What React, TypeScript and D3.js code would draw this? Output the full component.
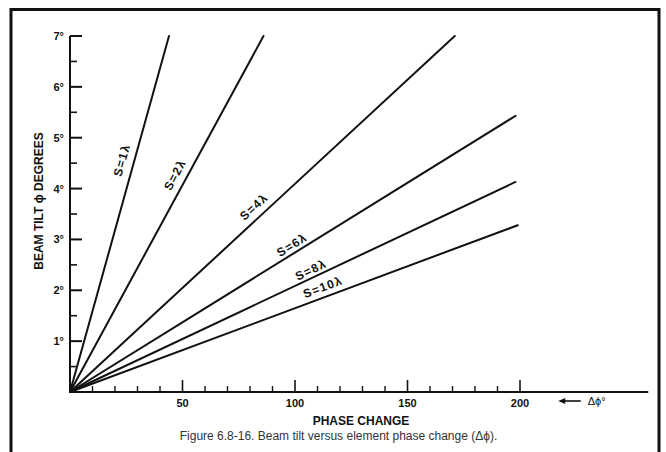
import React from "react";
import * as d3 from "d3";

const seriesNames = ["S=1λ", "S=2λ", "S=4λ", "S=6λ", "S=8λ", "S=10λ"];
const endPhase = [44, 86, 171, 198, 198, 199];
const endTilt = [7, 7, 7, 5.43, 4.13, 3.28];
const labelPhase = [23.1, 46.7, 81.8, 98.7, 107.1, 112.4];
const labelTilt = [4.56, 4.27, 3.64, 2.89, 2.4, 2.06];

const xMajorTicks = [50, 100, 150, 200];
const xMinorTicks = [10, 20, 30, 40, 60, 70, 80, 90, 110, 120, 130, 140, 160, 170, 180, 190];
const yMajorTicks = [1, 2, 3, 4, 5, 6, 7];
const yMinorTicks = [0.5, 1.5, 2.5, 3.5, 4.5, 5.5, 6.5];

const xTitle = "PHASE CHANGE";
const yTitle = "BEAM TILT ϕ DEGREES";
const unitLabel = "Δϕ°";
const caption = "Figure 6.8-16. Beam tilt versus element phase change (Δϕ).";

const W = 666;
const H = 452;
const FONT = "'Liberation Sans', Arial, Helvetica, sans-serif";

export default function App() {
  const x = d3.scaleLinear().domain([0, 200]).range([70, 520]);
  const y = d3.scaleLinear().domain([0, 7]).range([392, 36]);
  const line = d3
    .line<[number, number]>()
    .x((d) => x(d[0]))
    .y((d) => y(d[1]));
  const x0 = x(0);
  const y0 = y(0);
  const axisEnd = x(257);
  const arrowX1 = x(217);
  const arrowX2 = x(227);

  return (
    <svg
      width={W}
      height={H}
      style={{ position: "absolute", left: 0, top: 0, background: "#fff" }}
      fontFamily={FONT}
    >
      <rect x={0} y={0} width={W} height={H} fill="#fff" />
      <rect x={11} y={9.5} width={648} height={470} fill="none" stroke="#111" strokeWidth={3} />

      {/* y axis */}
      <line x1={x0} y1={y0} x2={x0} y2={y(7)} stroke="#111" strokeWidth={2} />
      {yMajorTicks.map((t) => (
        <g key={"ym" + t}>
          <line x1={x0} x2={x0 + 12} y1={y(t)} y2={y(t)} stroke="#111" strokeWidth={2} />
          <text
            x={64}
            y={y(t) + 4}
            textAnchor="end"
            fontSize={11}
            fontWeight="bold"
            fill="#111"
          >
            {t}°
          </text>
        </g>
      ))}
      {yMinorTicks.map((t) => (
        <line key={"yn" + t} x1={x0} x2={x0 + 7} y1={y(t)} y2={y(t)} stroke="#111" strokeWidth={1.6} />
      ))}

      {/* x axis */}
      <line x1={x0} y1={y0} x2={axisEnd} y2={y0} stroke="#111" strokeWidth={2} />
      {xMajorTicks.map((t) => (
        <g key={"xm" + t}>
          <line x1={x(t)} x2={x(t)} y1={y0} y2={y0 - 12} stroke="#111" strokeWidth={1.6} />
          <text x={x(t)} y={y0 + 15} textAnchor="middle" fontSize={11} fontWeight="bold" fill="#111">
            {t}
          </text>
        </g>
      ))}
      {xMinorTicks.map((t) => (
        <line key={"xn" + t} x1={x(t)} x2={x(t)} y1={y0} y2={y0 - 6} stroke="#111" strokeWidth={1.4} />
      ))}

      {/* arrow and unit */}
      <line x1={arrowX1 + 4} x2={arrowX2} y1={y0 + 9} y2={y0 + 9} stroke="#111" strokeWidth={1.6} />
      <path
        d={`M${arrowX1},${y0 + 9} L${arrowX1 + 7},${y0 + 6} L${arrowX1 + 7},${y0 + 12} Z`}
        fill="#111"
      />
      <text x={arrowX2 + 7} y={y0 + 13} fontSize={11} fill="#111">
        {unitLabel}
      </text>

      {/* series */}
      {seriesNames.map((name, i) => {
        const pts: [number, number][] = [
          [0, 0],
          [endPhase[i], endTilt[i]],
        ];
        const ang =
          (Math.atan2(y(endTilt[i]) - y0, x(endPhase[i]) - x0) * 180) / Math.PI;
        const lx = x(labelPhase[i]);
        const ly = y(labelTilt[i]);
        return (
          <g key={name}>
            <path d={line(pts) || ""} fill="none" stroke="#111" strokeWidth={2} strokeLinecap="round" />
            <text
              x={lx}
              y={ly}
              transform={`rotate(${ang},${lx},${ly})`}
              textAnchor="middle"
              dominantBaseline="central"
              fontSize={12}
              fontWeight="bold"
              letterSpacing={1.2}
              fill="#111"
            >
              {name}
            </text>
          </g>
        );
      })}

      {/* titles */}
      <text
        x={361}
        y={425}
        textAnchor="middle"
        fontSize={12}
        fontWeight="bold"
        fill="#111"
      >
        {xTitle}
      </text>
      <text
        transform={`translate(43,201) rotate(-90)`}
        textAnchor="middle"
        fontSize={12}
        fontWeight="bold"
        fill="#111"
      >
        {yTitle}
      </text>
      <text x={338.5} y={440} textAnchor="middle" fontSize={12} fill="#333">
        {caption}
      </text>
    </svg>
  );
}
